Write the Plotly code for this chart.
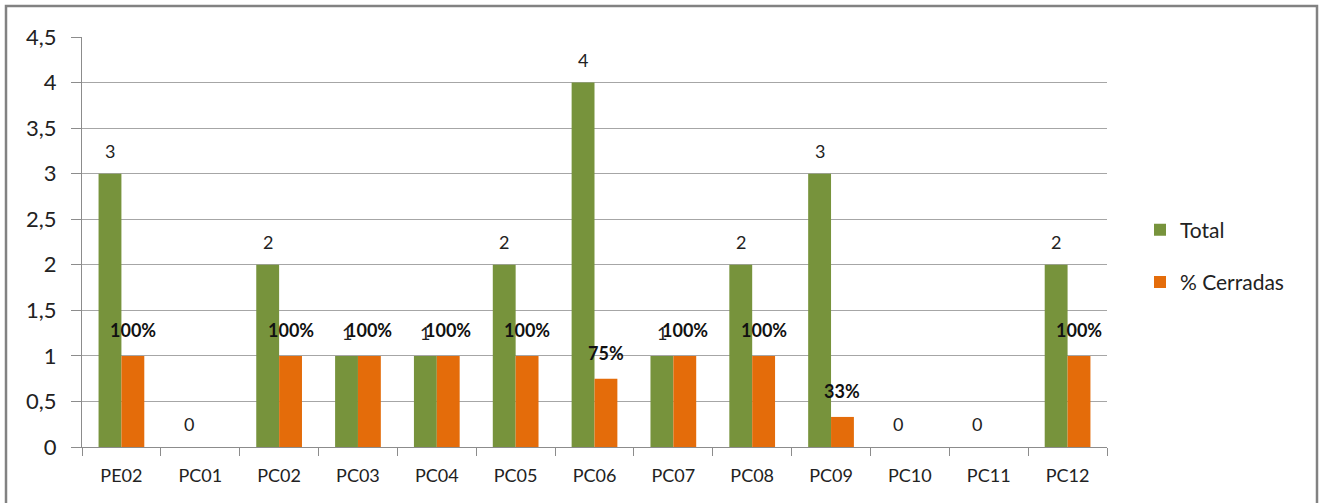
import plotly.graph_objects as go

# Data
categories = ["PE02", "PC01", "PC02", "PC03", "PC04", "PC05", "PC06",
              "PC07", "PC08", "PC09", "PC10", "PC11", "PC12"]
total = [3, 0, 2, 1, 1, 2, 4, 1, 2, 3, 0, 0, 2]
cerradas = [1, 0, 1, 1, 1, 1, 0.75, 1, 1, 0.33, 0, 0, 1]
y_ticks = [0, 0.5, 1, 1.5, 2, 2.5, 3, 3.5, 4, 4.5]

GREEN = "#77933C"
ORANGE = "#E46C0A"
FONT = "Lato, 'Open Sans', sans-serif"

BARGAP = 0.42
half = (1 - BARGAP) / 4  # centre offset of each bar within its group

fig = go.Figure()
fig.add_trace(go.Bar(x=categories, y=total, name="Total", legendgroup="t",
                     marker=dict(color=GREEN, line=dict(width=0))))
fig.add_trace(go.Bar(x=categories, y=cerradas, name="% Cerradas", legendgroup="c",
                     marker=dict(color=ORANGE, line=dict(width=0))))

annotations = []
for i, v in enumerate(total):
    annotations.append(dict(x=i - half, y=v, xref="x", yref="y",
                            text=str(v), showarrow=False, yshift=23,
                            font=dict(family=FONT, size=18, color="#222")))
for i, v in enumerate(cerradas):
    if v > 0:
        annotations.append(dict(x=i + half, y=v, xref="x", yref="y",
                                text=f"<b>{round(v * 100)}%</b>", showarrow=False,
                                yshift=26,
                                font=dict(family=FONT, size=18, color="#111")))

# outer frame around the whole chart
pw, ph = 1322 - 82 - 215, 503 - 37 - 56
def px_x(p):
    return (p - 82) / pw
def px_y(p):
    return (447 - p) / ph

shapes = [dict(type="rect", xref="paper", yref="paper",
               x0=px_x(6), x1=px_x(1317), y0=px_y(540), y1=px_y(6),
               line=dict(color="#828282", width=2.5), fillcolor="rgba(0,0,0,0)",
               layer="below")]

fig.update_layout(
    width=1322, height=503,
    margin=dict(l=82, r=215, t=37, b=56),
    paper_bgcolor="white", plot_bgcolor="white",
    barmode="group", bargap=BARGAP, bargroupgap=0,
    separators=",.",
    font=dict(family=FONT, color="#222"),
    showlegend=True,
    legend=dict(x=px_x(1140), y=px_y(256), xanchor="left", yanchor="middle",
                font=dict(family=FONT, size=21, color="#222"),
                itemwidth=30, tracegroupgap=22,
                bgcolor="rgba(0,0,0,0)"),
    annotations=annotations,
    shapes=shapes,
    xaxis=dict(type="category", showgrid=False, showline=True,
               linecolor="#8c8c8c", linewidth=1,
               ticks="outside", tickson="boundaries", ticklen=8,
               tickcolor="#8c8c8c", ticklabelstandoff=12,
               tickfont=dict(family=FONT, size=18, color="#222"),
               range=[-0.5, 12.5]),
    yaxis=dict(range=[0, 4.5], tickvals=y_ticks, showgrid=True,
               gridcolor="#a6a6a6", gridwidth=1, zeroline=False,
               showline=True, linecolor="#8c8c8c", linewidth=1,
               ticks="outside", ticklen=10, tickcolor="#8c8c8c",
               ticklabelstandoff=10,
               tickfont=dict(family=FONT, size=22, color="#222")),
)

fig.write_html("out.html")
